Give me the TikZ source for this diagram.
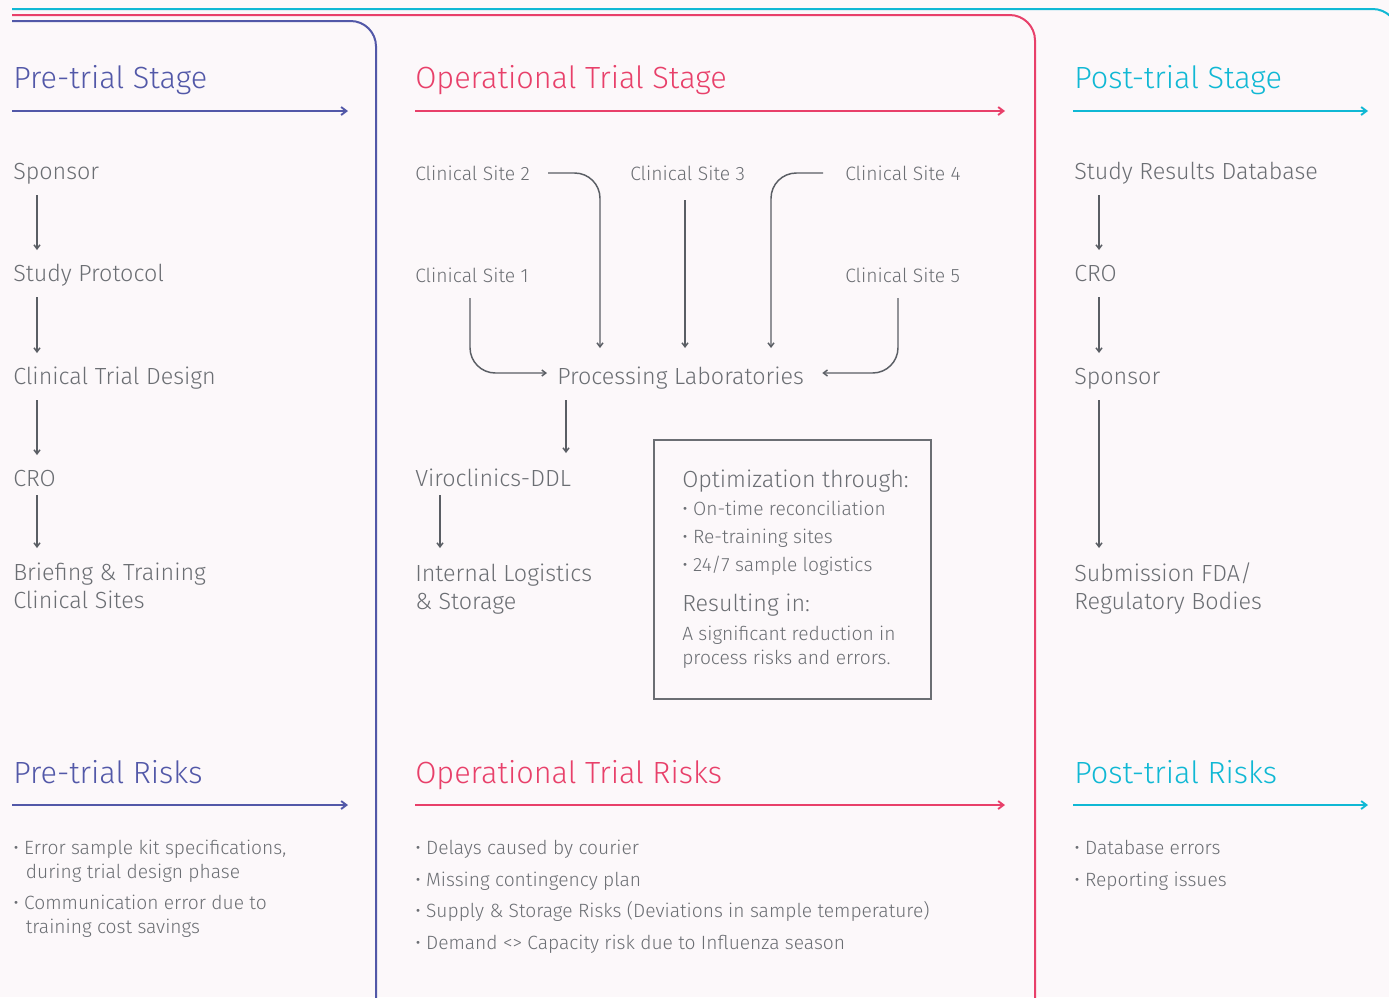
\documentclass[tikz,border=0pt]{standalone}
\usepackage{fontspec}
\setmainfont{Fira Sans Light}
\usetikzlibrary{arrows.meta}
\definecolor{bgpink}{HTML}{FCF8FA}
\definecolor{preblue}{HTML}{5258A8}
\definecolor{oppink}{HTML}{E8406A}
\definecolor{postcyan}{HTML}{10B8D4}
\definecolor{txtgray}{HTML}{6B6E73}
\definecolor{lngray}{HTML}{5A5E64}
\tikzset{
  head/.style={anchor=base west, inner sep=0pt, font=\fontsize{23}{27}\selectfont},
  item/.style={anchor=base west, inner sep=0pt, text=txtgray, align=left, font=\fontsize{17.5}{21}\selectfont},
  site/.style={anchor=base west, inner sep=0pt, text=txtgray, font=\fontsize{14.5}{17}\selectfont},
  risk/.style={anchor=base west, inner sep=0pt, text=txtgray, align=left, font=\fontsize{14.4}{18}\selectfont},
  conn/.style={->, draw=lngray, line width=1.1pt},
  uline/.style={-{Straight Barb[length=4pt,width=6pt]}, line width=1.4pt},
  frame/.style={line width=1.5pt, rounded corners=19pt},
}
\begin{document}
\begin{tikzpicture}[x=0.75pt, y=-0.75pt, >={Straight Barb[length=3pt,width=4.5pt]}]
\fill[bgpink] (0,0) rectangle (1389,997);
\useasboundingbox (0,0) rectangle (1389,997);
\clip (0,0) rectangle (1389,997);
\draw[frame, postcyan] (12,9) -| (1398,1010);
\draw[frame, oppink] (12,15) -| (1035,1010);
\draw[frame, preblue] (12,21) -| (376,1010);

\node[head, text=preblue] (pre) at (13,88) {Pre-trial Stage};
\node[head, text=oppink] (ops) at (415,88) {Operational Trial Stage};
\node[head, text=postcyan] (post) at (1074,88) {Post-trial Stage};
\draw[uline, preblue] (12,111) -- (348,111);
\draw[uline, oppink] (415,111) -- (1005,111);
\draw[uline, postcyan] (1073,111) -- (1368,111);

\node[item] (sp1) at (13,179) {Sponsor};
\node[item] (prot) at (13,281) {Study Protocol};
\node[item] (ctd) at (13,384) {Clinical Trial Design};
\node[item] (cro1) at (13,486) {CRO};
\node[item] (brief) at (13,608) {Briefing \& Training\\Clinical Sites};
\draw[conn] ([shift={(24,16)}]sp1.base west) -- ([shift={(24,-31)}]prot.base west);
\draw[conn] ([shift={(24,16)}]prot.base west) -- ([shift={(24,-31)}]ctd.base west);
\draw[conn] ([shift={(24,16)}]ctd.base west) -- ([shift={(24,-31)}]cro1.base west);
\draw[conn] ([shift={(24,9)}]cro1.base west) -- ([shift={(24,-60)}]brief.base west);

\node[site] (cs2) at (415,180) {Clinical Site 2};
\node[site] (cs3) at (630,180) {Clinical Site 3};
\node[site] (cs4) at (845,180) {Clinical Site 4};
\node[site] (cs1) at (415,282) {Clinical Site 1};
\node[site] (cs5) at (845,282) {Clinical Site 5};
\node[item] (lab) at (557,384) {Processing Laboratories};
\node[item] (viro) at (415,486) {Viroclinics-DDL};
\node[item] (logi) at (415,609) {Internal Logistics\\\& Storage};
\draw[conn, rounded corners=19pt] ([shift={(18,-7)}]cs2.base east) -| ([shift={(43,-36)}]lab.base west);
\draw[conn] ([shift={(55,20)}]cs3.base west) -- ([shift={(128,-36)}]lab.base west);
\draw[conn, rounded corners=19pt] ([shift={(-22,-7)}]cs4.base west) -| ([shift={(214,-36)}]lab.base west);
\draw[conn, rounded corners=19pt] ([shift={(55,16)}]cs1.base west) |- ([shift={(-10,-11)}]lab.base west);
\draw[conn, rounded corners=19pt] ([shift={(53,16)}]cs5.base west) |- ([shift={(18,-11)}]lab.base east);
\draw[conn] ([shift={(9,16)}]lab.base west) -- ([shift={(151,-33)}]viro.base west);
\draw[conn] ([shift={(25,9)}]viro.base west) -- ([shift={(25,-61)}]logi.base west);

\node[draw=txtgray, line width=0.8pt, minimum width=207.75pt, minimum height=194.25pt, inner sep=0pt] (opt) at (792.5,569.5) {};
\node[item] (optt) at (682,487) {Optimization through:};
\node[risk] (opt1) at (682,515) {• On-time reconciliation};
\node[risk] (opt2) at (682,543) {• Re-training sites};
\node[risk] (opt3) at (682,571) {• 24/7 sample logistics};
\node[item] (res) at (682,611) {Resulting in:};
\node[risk] (rest) at (682,664) {A significant reduction in\\process risks and errors.};

\node[item] (srd) at (1074,179) {Study Results Database};
\node[item] (cro2) at (1074,281) {CRO};
\node[item] (sp2) at (1074,384) {Sponsor};
\node[item] (sub) at (1074,609) {Submission FDA/\\Regulatory Bodies};
\draw[conn] ([shift={(25,16)}]srd.base west) -- ([shift={(25,-31)}]cro2.base west);
\draw[conn] ([shift={(25,16)}]cro2.base west) -- ([shift={(25,-31)}]sp2.base west);
\draw[conn] ([shift={(25,16)}]sp2.base west) -- ([shift={(25,-61)}]sub.base west);

\node[head, text=preblue] (prerisk) at (13,783) {Pre-trial Risks};
\node[head, text=oppink] (oprisk) at (415,783) {Operational Trial Risks};
\node[head, text=postcyan] (postrisk) at (1074,783) {Post-trial Risks};
\draw[uline, preblue] (12,805) -- (348,805);
\draw[uline, oppink] (415,805) -- (1005,805);
\draw[uline, postcyan] (1073,805) -- (1368,805);

\node[risk] (r1) at (13,878) {• Error sample kit specifications,\\\hspace*{9.5pt}during trial design phase};
\node[risk] (r2) at (13,933) {• Communication error due to\\\hspace*{9.5pt}training cost savings};
\node[risk] (r3) at (415,854) {• Delays caused by courier};
\node[risk] (r4) at (415,886) {• Missing contingency plan};
\node[risk] (r5) at (415,917) {• Supply \& Storage Risks (Deviations in sample temperature)};
\node[risk] (r6) at (415,949) {• Demand <> Capacity risk due to Influenza season};
\node[risk] (r7) at (1074,854) {• Database errors};
\node[risk] (r8) at (1074,886) {• Reporting issues};
\end{tikzpicture}
\end{document}
